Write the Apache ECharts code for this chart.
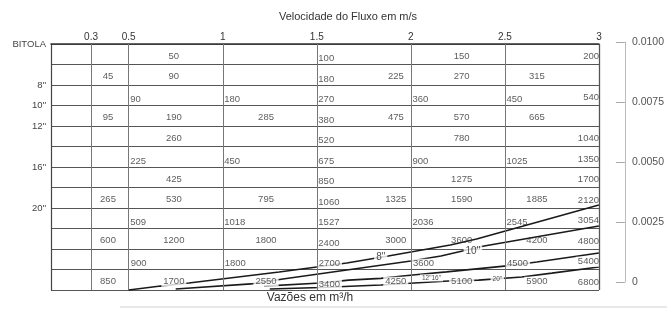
<!DOCTYPE html>
<html><head><meta charset="utf-8">
<script src="https://cdn.jsdelivr.net/npm/echarts@6/dist/echarts.min.js"></script>
<style>html,body{margin:0;padding:0;background:#fff}#c{width:667px;height:318px}</style>
</head><body><div id="c"></div>
<script>
// ---- data ----
const velocityTicks = [0.3, 0.5, 1, 1.5, 2, 2.5, 3];
const bitolaNames = ['BITOLA', '8"', '10"', '12"', '16"', '20"'];
const bitolaLines = [0, 2, 3, 4, 6, 8];

const rowFlows = [
  [50, 100, 150, 200],
  [45, 90, 180, 225, 270, 315],
  [90, 180, 270, 360, 450, 540],
  [95, 190, 285, 380, 475, 570, 665],
  [260, 520, 780, 1040],
  [225, 450, 675, 900, 1025, 1350],
  [425, 850, 1275, 1700],
  [265, 530, 795, 1060, 1325, 1590, 1885, 2120],
  [509, 1018, 1527, 2036, 2545, 3054],
  [600, 1200, 1800, 2400, 3000, 3600, 4200, 4800],
  [900, 1800, 2700, 3600, 4500, 5400],
  [850, 1700, 2550, 3400, 4250, 5100, 5900, 6800]
];
const rowVelocities = [
  [0.74, 1.5, 2.27, 3],
  [0.39, 0.74, 1.5, 1.92, 2.27, 2.67],
  [0.5, 1, 1.5, 2, 2.5, 3],
  [0.39, 0.74, 1.23, 1.5, 1.92, 2.27, 2.67],
  [0.74, 1.5, 2.27, 3],
  [0.5, 1, 1.5, 2, 2.5, 3],
  [0.74, 1.5, 2.27, 3],
  [0.39, 0.74, 1.23, 1.5, 1.92, 2.27, 2.67, 3],
  [0.5, 1, 1.5, 2, 2.5, 3],
  [0.39, 0.74, 1.23, 1.5, 1.92, 2.27, 2.67, 3],
  [0.5, 1, 1.5, 2, 2.5, 3],
  [0.39, 0.74, 1.23, 1.5, 1.92, 2.27, 2.67, 3]
];

// curves: [velocity, value on right axis]
const curve8 = [[0.50,-0.00033],[0.67,-0.00017],[0.82,-0.00004],[1.30,0.00042],[1.66,0.00079],[1.88,0.00108],[2.21,0.00154],[2.35,0.00179],[3.0,0.00321]];
const curve10 = [[0.75,-0.00029],[1.15,-0.00008],[1.32,0.000125],[2.0,0.000875],[2.16,0.00108],[2.39,0.0015],[3.0,0.00233]];
const curve12 = [[1.22,-0.00017],[1.52,-0.00004],[1.67,0.00008],[1.84,0.00015],[2.01,0.00029],[2.19,0.00042],[2.51,0.00067],[2.67,0.00083],[3.0,0.00121]];
const curve20 = [[1.25,-0.00029],[1.52,-0.00023],[1.84,-0.000125],[2.2,0.00004],[2.36,0.00008],[2.59,0.00021],[2.75,0.00037],[3.0,0.000625]];
const curveNames = ['8"', '10"', '12"16"', '20"'];
const curveLabelPos = [[1.84, 0.00104], [2.33, 0.0013], [2.11, 0.00017], [2.46, 0.000125]];

const xMin = 0.087, xMax = 3;
const gridLines = [0.3, 0.5, 1, 1.5, 2, 2.5];

// ---- build ----
const FONT = 'Liberation Sans, Arial, sans-serif';
const maskedRows = [10, 11];
const tableItems = [];
rowFlows.forEach((flows, r) => {
  flows.forEach((q, k) => {
    const v = rowVelocities[r][k];
    let align = 'center', off = [0, 2];
    if (v === 3) { align = 'right'; off = [0, 2.5]; }
    else if (gridLines.indexOf(v) >= 0 && v >= 0.5) { align = 'left'; off = [1.5, 4.5]; }
    const lab = { align: align, offset: off };
    if (maskedRows.indexOf(r) >= 0) { lab.backgroundColor = '#fff'; lab.padding = [0, 2]; if (align==='left') lab.offset=[0,4.5]; if(align==='right') lab.offset=[2,2.5]; }
    tableItems.push({ value: [v, r + 0.5, q], label: lab });
  });
});

const curveSeries = [curve8, curve10, curve12, curve20].map((d, i) => ({
  type: 'line', xAxisIndex: 1, yAxisIndex: 1, data: d, symbol: 'none', clip: false,
  lineStyle: { color: '#1a1a1a', width: 1.6 }, z: 3, silent: true
}));

const curveLabelItems = curveLabelPos.map((p, i) => ({
  value: [p[0], p[1], curveNames[i]],
  label: { fontSize: i < 2 ? 10 : 6.5 }
}));

const chart = echarts.init(document.getElementById('c'), null, { renderer: 'canvas' });
chart.setOption({
  animation: false,
  backgroundColor: '#fff',
  textStyle: { fontFamily: FONT },
  graphic: [
    { type: 'text', style: { text: 'Velocidade do Fluxo em m/s', x: 348, y: 17, textAlign: 'center', textVerticalAlign: 'middle', fontSize: 11, fontFamily: FONT, fill: '#333' } },
    { type: 'text', style: { text: 'Vazões em m³/h', x: 310, y: 298, textAlign: 'center', textVerticalAlign: 'middle', fontSize: 12, fontFamily: FONT, fill: '#333' } },
    { type: 'line', shape: { x1: 120, y1: 307, x2: 667, y2: 307 }, style: { stroke: '#e0e0e0', lineWidth: 1.5 } }
  ],
  grid: [
    { left: 51, right: 68, top: 44, bottom: 28 },
    { left: 51, right: 68, top: 42, bottom: 36 }
  ],
  xAxis: [
    { gridIndex: 0, type: 'value', position: 'top', min: xMin, max: xMax,
      axisLine: { show: true, lineStyle: { color: '#333', width: 1.5 } },
      axisTick: { show: false, customValues: velocityTicks },
      axisLabel: { customValues: velocityTicks, formatter: v => String(v), color: '#333', fontSize: 10, margin: 2, fontFamily: FONT },
      splitLine: { show: false } },
    { gridIndex: 1, type: 'value', min: xMin, max: xMax, show: false }
  ],
  yAxis: [
    { gridIndex: 0, type: 'value', inverse: true, min: 0, max: 12, interval: 1,
      axisLine: { show: true, lineStyle: { color: '#444', width: 1.2 } },
      axisTick: { show: false },
      axisLabel: { formatter: v => { const i = bitolaLines.indexOf(v); return i < 0 ? '' : bitolaNames[i]; },
        margin: 5, color: '#444', fontSize: 9.5, padding: [7, 0, 0, 0], fontFamily: FONT },
      splitLine: { show: true, lineStyle: { color: '#555', width: 1.2 } } },
    { gridIndex: 1, type: 'value', position: 'right', offset: 26, min: 0, max: 0.01, interval: 0.0025,
      axisLine: { show: true, lineStyle: { color: '#bbb' } },
      axisTick: { show: true, inside: true, length: 9, lineStyle: { color: '#aaa' } },
      axisLabel: { formatter: v => v === 0 ? '0' : v.toFixed(4), color: '#555', fontSize: 10.5, margin: 7, fontFamily: FONT },
      splitLine: { show: false } }
  ],
  series: [
    { type: 'line', xAxisIndex: 0, yAxisIndex: 0, data: [], silent: true, z: 1,
      markLine: { silent: true, symbol: ['none', 'none'], label: { show: false }, animation: false,
        lineStyle: { color: '#777', width: 1, type: 'solid' },
        data: gridLines.map(v => ({ xAxis: v })).concat([{ xAxis: xMax, lineStyle: { color: '#555', width: 1.3, type: 'solid' } }]) } },
    { type: 'scatter', xAxisIndex: 0, yAxisIndex: 0, data: tableItems, symbolSize: 0, z: 4, silent: true,
      label: { show: true, position: 'inside', formatter: p => String(p.value[2]), color: '#333', fontSize: 9.5, fontFamily: FONT } },
    ...curveSeries,
    { type: 'scatter', xAxisIndex: 1, yAxisIndex: 1, data: curveLabelItems, symbolSize: 0, z: 5, silent: true,
      label: { show: true, position: 'inside', formatter: p => p.value[2], color: '#222', backgroundColor: '#fff', padding: [0, 2], fontFamily: FONT } }
  ]
});
</script></body></html>
